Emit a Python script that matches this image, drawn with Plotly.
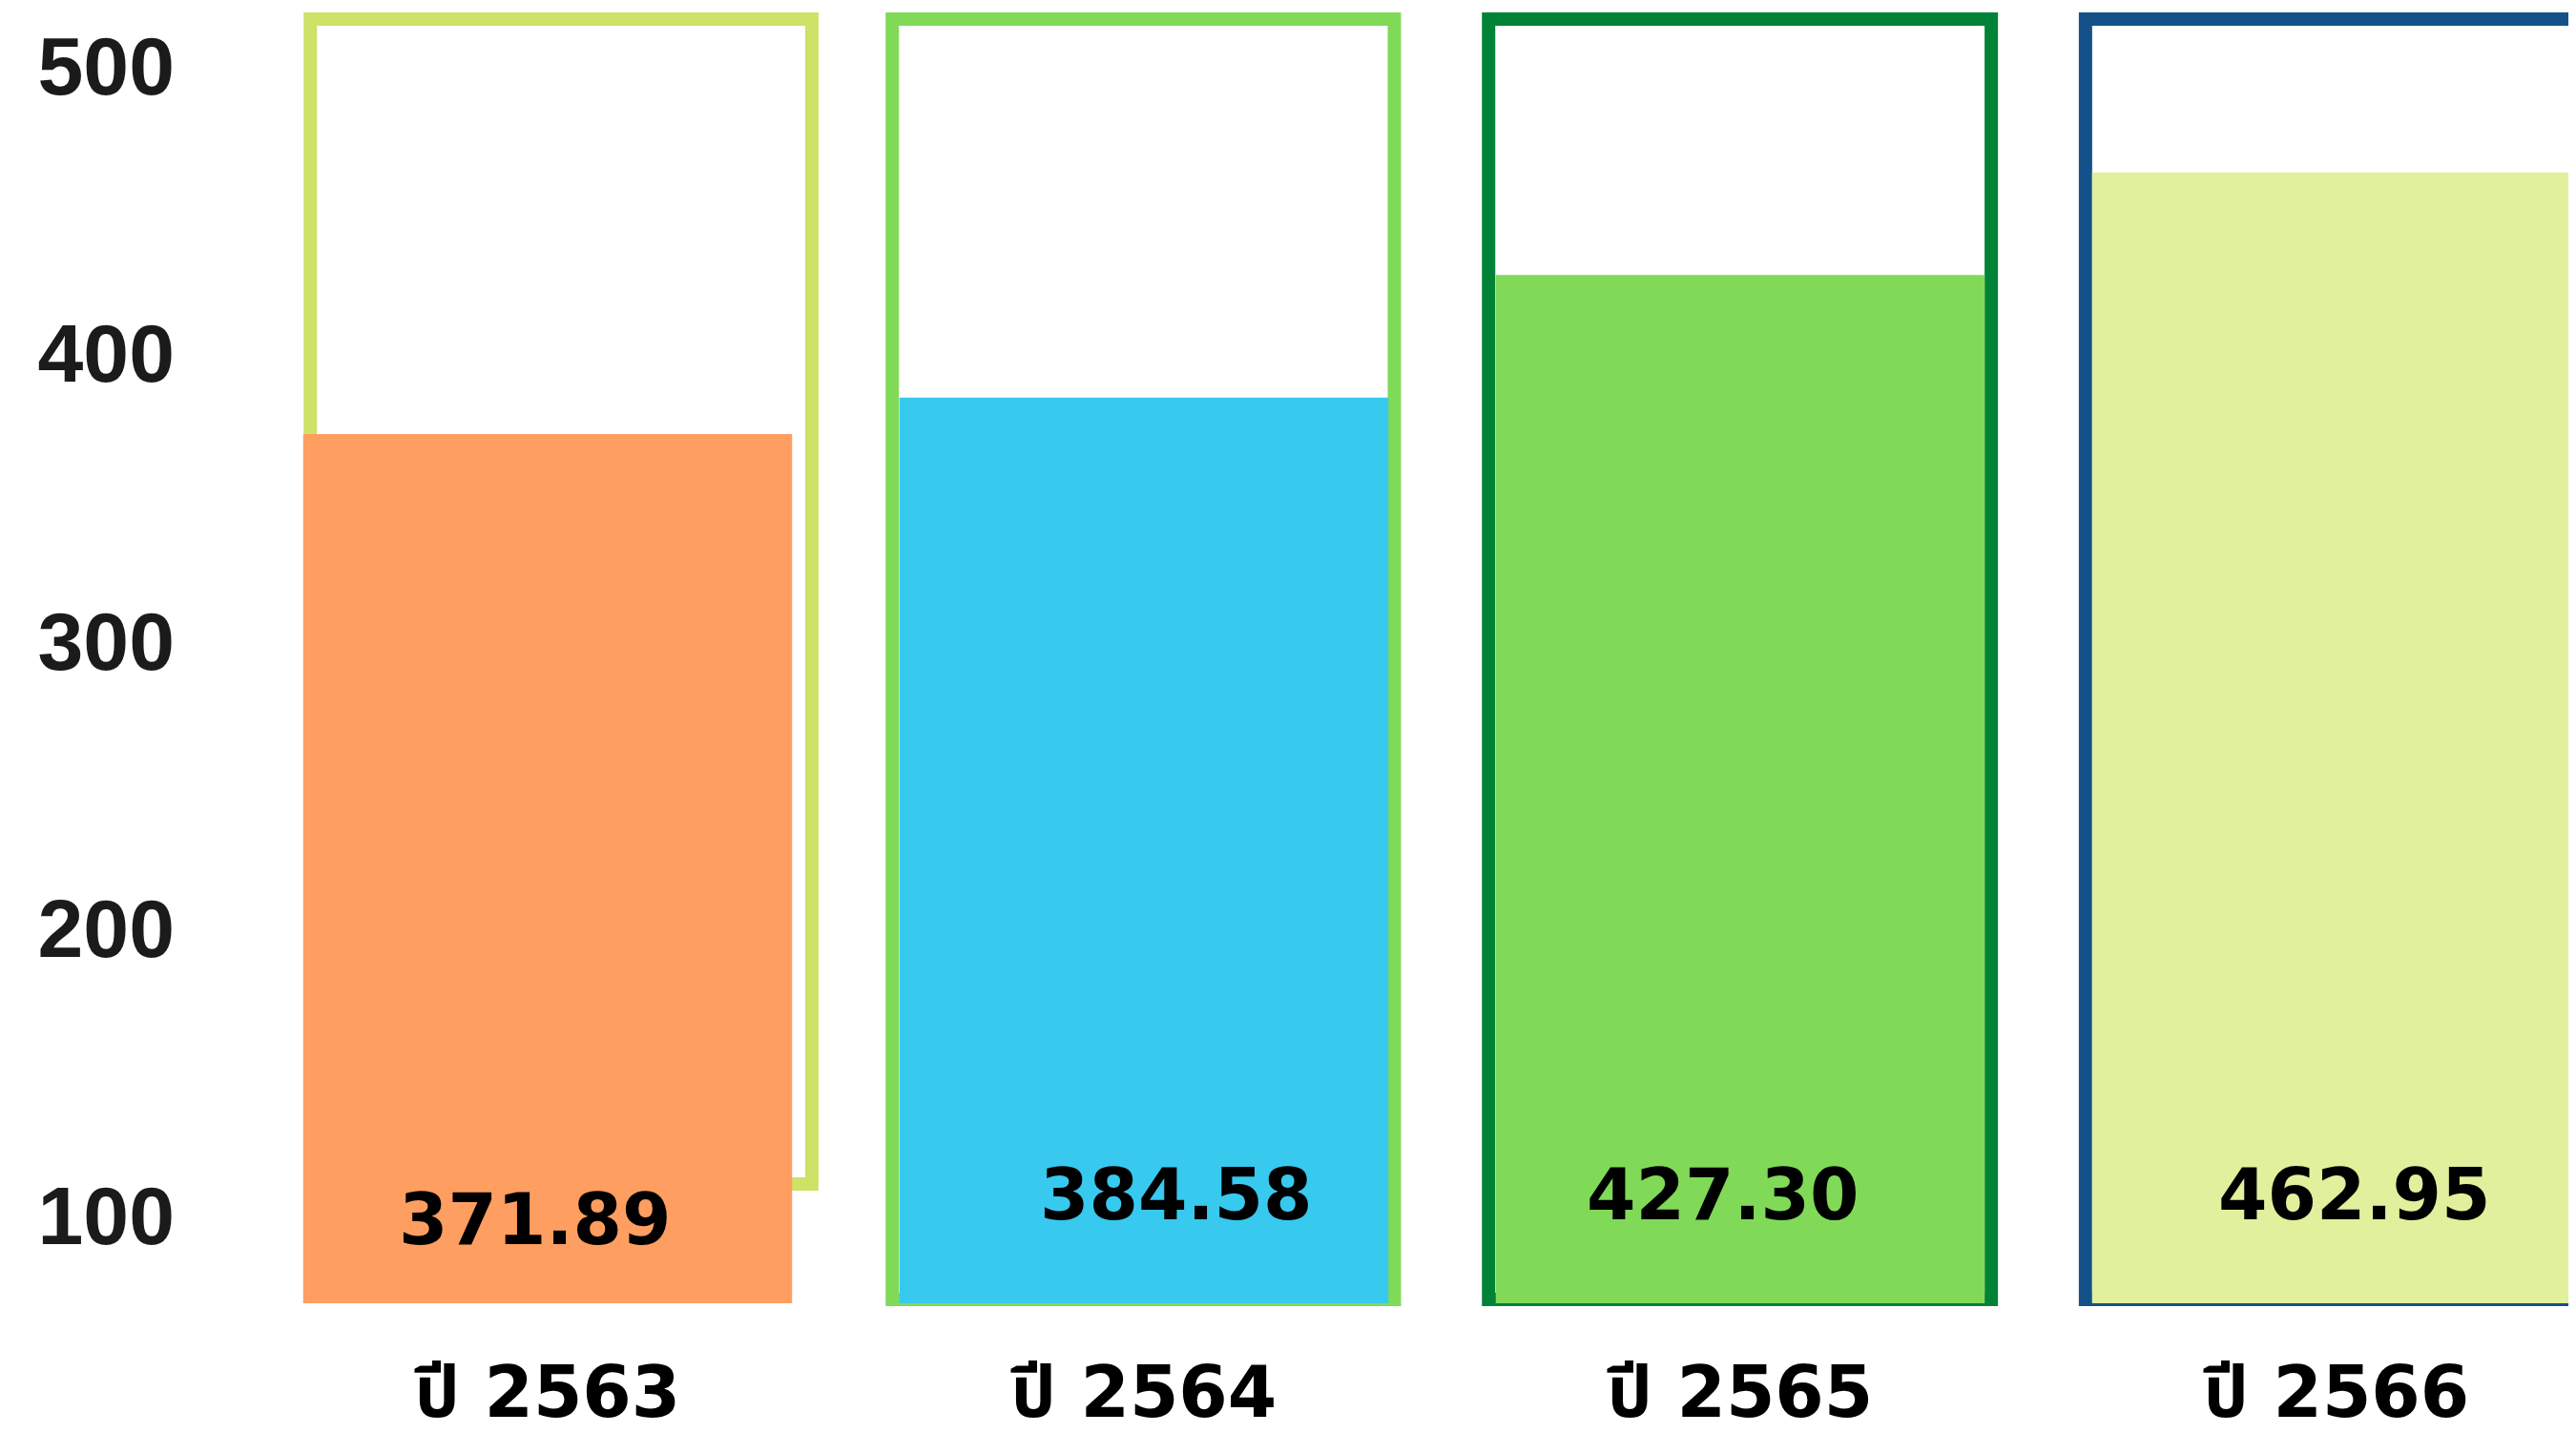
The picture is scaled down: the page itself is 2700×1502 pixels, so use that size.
import plotly.graph_objects as go

# ---- data ----
categories = ["ปี 2563", "ปี 2564", "ปี 2565", "ปี 2566"]
values = [371.89, 384.58, 427.30, 462.95]
y_tick_values = [100, 200, 300, 400, 500]
y_tick_labels = ["100", "200", "300", "400", "500"]

# ---- style ----
bar_colors = ["#FF9E61", "#38C9EF", "#80DA58", "#E1F09C"]
frame_colors = ["#CDE266", "#80DA58", "#008237", "#155189"]
frame_dx = [(-0.398, 0.443), (-0.422, 0.420), (-0.422, 0.421), (-0.421, 0.430)]
frame_bottom = [0.0920, 0.003, 0.003, 0.003]
frame_top = 0.9912
label_dx = [-0.021, 0.054, -0.029, 0.030]
label_y = [0.0648, 0.0839, 0.0839, 0.0839]

# page body has an 8px margin, so the figure is sized to end at the window edge
W, H = 2692, 1494

fig = go.Figure()
fig.add_trace(go.Bar(
    x=categories, y=values, width=0.82,
    marker=dict(color=bar_colors, line=dict(width=0)),
    hoverinfo="skip", showlegend=False,
))

shapes = []
for i, c in enumerate(frame_colors):
    shapes.append(dict(
        type="rect", xref="x", yref="paper", layer="below",
        x0=i + frame_dx[i][0], x1=i + frame_dx[i][1],
        y0=frame_bottom[i], y1=frame_top,
        line=dict(color=c, width=14), fillcolor="rgba(0,0,0,0)",
    ))

annotations = []
for i, v in enumerate(values):
    annotations.append(dict(
        x=i + label_dx[i], y=label_y[i], xref="x", yref="paper",
        text=f"{v:.2f}", showarrow=False, xanchor="center", yanchor="middle",
        font=dict(family="DejaVu Sans", size=74, color="#000000", weight="bold"),
    ))

fig.update_layout(
    width=W, height=H,
    margin=dict(l=207, r=0, t=0, b=136),
    paper_bgcolor="white", plot_bgcolor="white",
    shapes=shapes, annotations=annotations,
    xaxis=dict(
        type="category", range=[-0.5744, 3.4016], automargin=False,
        showgrid=False, zeroline=False, showline=False, ticks="",
        tickfont=dict(family="DejaVu Sans, Noto Sans Thai, Loma, sans-serif", size=74,
                      color="#000000", weight="bold"),
        ticklabelstandoff=44,
    ),
    yaxis=dict(
        range=[69.5, 520.3], automargin=False,
        tickmode="array", tickvals=y_tick_values, ticktext=y_tick_labels,
        showgrid=False, zeroline=False, showline=False, ticks="",
        tickfont=dict(family="Liberation Sans", size=86, color="#1b1b1b", weight="bold"),
        ticklabelstandoff=31,
    ),
)

fig.write_html("out.html", config={"displayModeBar": False})
